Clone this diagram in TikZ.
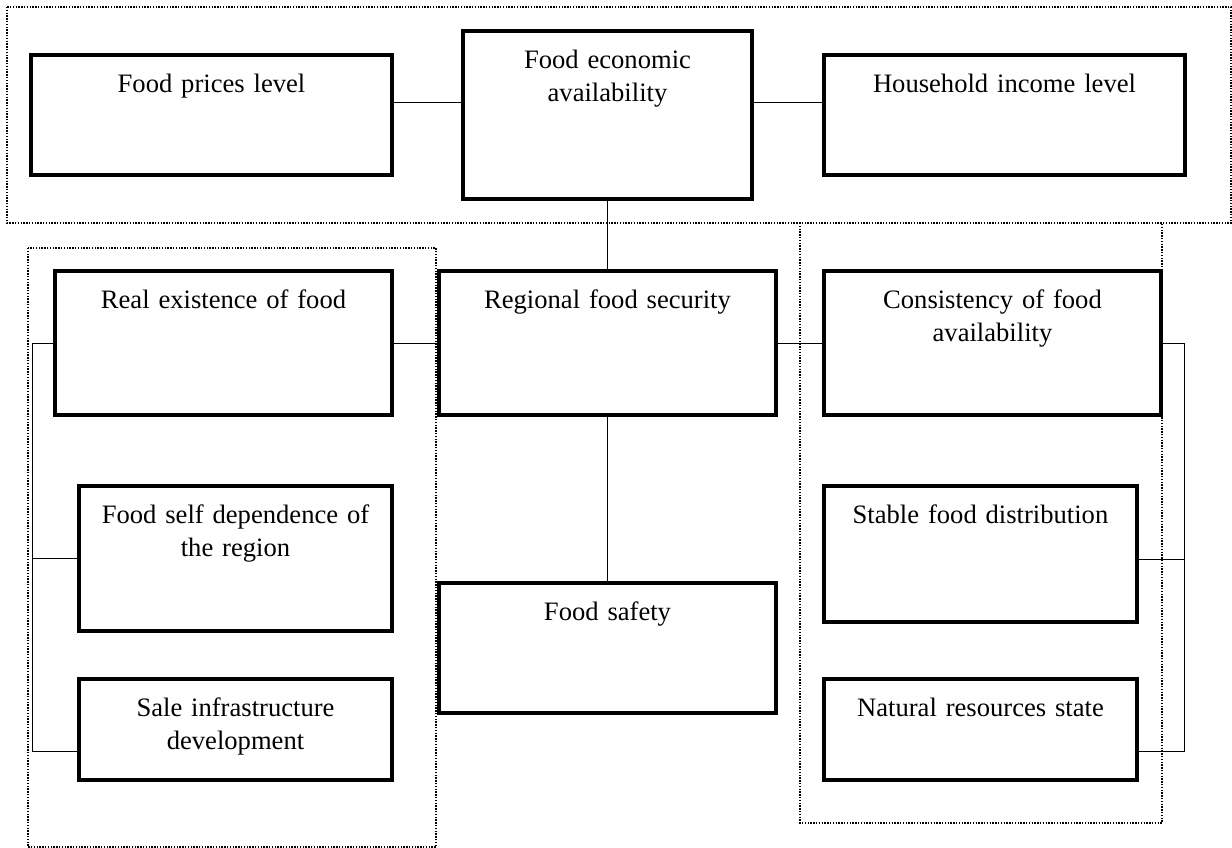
\documentclass[tikz,border=0pt]{standalone}
\usepackage{fontspec}
\setmainfont{Liberation Serif}
\usepackage{tikz}
\usetikzlibrary{positioning,calc}
\tikzset{
  blk/.style={draw, line width=4.5pt, inner sep=0pt, align=center, text height=37.5pt,
              font=\fontsize{26.6}{33}\selectfont},
  link/.style={line width=1pt},
  grp/.style={line width=1.4pt, dash pattern=on 1.4pt off 1.4pt}
}

\begin{document}
\begin{tikzpicture}[x=1pt, y=-1pt]
    \useasboundingbox (0,0) rectangle (1232,848);

    % Dotted groups
    \draw[grp] (7,7) rectangle (1231,223);
    \draw[grp] (28,248) rectangle (436,847);
    \draw[grp] (800,223) rectangle (1162,823);

    % Economic availability row
    \node[blk, text width=361pt, text depth=82.5pt] (prices) at (211.5,115) {Food prices level};
    \node[blk, text width=289pt, text depth=130.5pt] (econ) at (607.5,115) {Food economic\\availability};
    \node[blk, text width=361pt, text depth=82.5pt] (income) at (1004.5,115) {Household income level};

    % Central row
    \node[blk, text width=337pt, text depth=106.5pt] (real) at (223.5,343) {Real existence of food};
    \node[blk, text width=337pt, text depth=106.5pt] (regional) at (607.5,343) {Regional food security};
    \node[blk, text width=337pt, text depth=106.5pt] (consist) at (992.5,343) {Consistency of food\\availability};

    % Left column
    \node[blk, text width=313pt, text depth=107.5pt] (selfdep) at (235.5,558.5) {Food self dependence of\\the region};
    \node[blk, text width=313pt, text depth=63.5pt] (sale) at (235.5,729.5) {Sale infrastructure\\development};

    % Food safety
    \node[blk, text width=337pt, text depth=92.5pt] (safety) at (607.5,648) {Food safety};

    % Right column
    \node[blk, text width=313pt, text depth=98.5pt] (stable) at (980.5,554) {Stable food distribution};
    \node[blk, text width=313pt, text depth=63.5pt] (natural) at (980.5,729.5) {Natural resources state};

    % Links
    \draw[link] ([yshift=12pt]prices.east) -- ([yshift=12pt]econ.west);
    \draw[link] ([yshift=12pt]econ.east) -- ([yshift=12pt]income.west);
    \draw[link] (econ.south) -- (regional.north);
    \draw[link] (real.east) -- (regional.west);
    \draw[link] (regional.east) -- (consist.west);
    \draw[link] (regional.south) -- (safety.north);

    % Brackets
    \coordinate (lbus) at (32,343);
    \coordinate (rbus) at (1184,343);
    \draw[link] (real.west) -- (lbus) |- (selfdep.west);
    \draw[link] (lbus) |- ([yshift=-21.5pt]sale.west);
    \draw[link] (consist.east) -- (rbus) |- ([yshift=-5pt]stable.east);
    \draw[link] (rbus) |- ([yshift=-21.5pt]natural.east);
\end{tikzpicture}
\end{document}
